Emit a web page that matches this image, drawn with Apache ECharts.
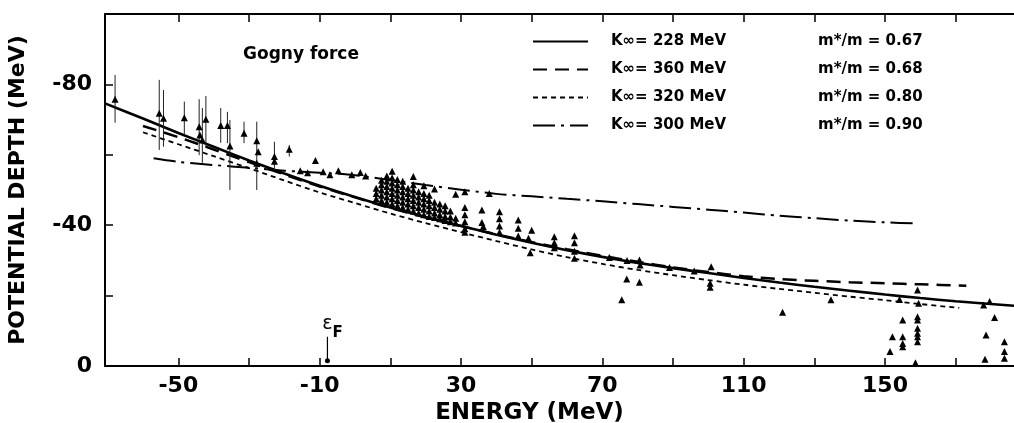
<!DOCTYPE html>
<html>
<head>
<meta charset="utf-8">
<script src="https://cdn.jsdelivr.net/npm/echarts@6/dist/echarts.min.js"></script>
<style>
html,body{margin:0;padding:0;background:#fff;}
#chart{width:1014px;height:423px;}
</style>
</head>
<body>
<div id="chart"></div>
<script>
// curves: energy (MeV) and potential depth (MeV)
var solidE = [-70.75,-60,-50,-40,-30,-20,-10,0,10,20,30,40,50,60,70,80,90,100,110,120,130,140,150,160,170,186.5];
var solidV = [-74.6,-70.3,-66.2,-62.3,-58.4,-54.7,-51.2,-48.0,-45.0,-42.3,-39.8,-37.3,-35.0,-32.9,-31.0,-29.3,-27.8,-26.4,-25.0,-23.7,-22.5,-21.4,-20.3,-19.3,-18.4,-17.1];

var longDashE = [-60,-50,-40,-30,-20,-10,0,10,20,30,40,50,60,70,80,90,100,110,120,130,140,150,160,173];
var longDashV = [-68.2,-65.0,-61.5,-57.9,-54.4,-51.0,-47.9,-44.9,-42.2,-39.8,-37.4,-35.2,-33.2,-31.3,-29.6,-28.0,-26.7,-25.5,-24.7,-24.2,-23.8,-23.5,-23.2,-22.8];

var shortDashE = [-60,-50,-40,-30,-20,-10,0,10,20,30,40,50,60,70,80,90,100,110,120,130,140,150,160,171];
var shortDashV = [-66.4,-63.0,-59.6,-56.2,-52.7,-49.3,-46.3,-43.3,-40.6,-38.0,-35.5,-33.1,-30.9,-29.0,-27.3,-25.8,-24.4,-23.1,-21.9,-20.8,-19.7,-18.7,-17.6,-16.5];

var dashDotE = [-57,-50,-40,-30,-20,-10,0,10,20,30,40,50,60,70,80,90,100,110,120,130,140,150,159.5];
var dashDotV = [-59.0,-58.0,-57.1,-56.3,-55.5,-54.9,-54.2,-52.8,-51.4,-50.1,-48.9,-48.2,-47.5,-46.8,-46.0,-45.2,-44.4,-43.6,-42.7,-42.0,-41.3,-40.8,-40.5];

// legend texts
var kInf = ['228','360','320','300'];
var massRatio = ['0.67','0.68','0.80','0.90'];

// data with error bars (low energies)
var barE = [-67.9,-55.4,-54.2,-48.3,-44.1,-43.2,-42.2,-38.0,-36.1,-35.4,-31.4,-27.8,-22.8,-18.6];
var barV = [-75.8,-71.8,-70.4,-70.5,-68.0,-64.2,-70.1,-68.3,-68.3,-62.5,-66.1,-64.0,-59.5,-61.6];
var barLow = [-69.1,-61.4,-62.3,-65.6,-59.9,-57.7,-62.0,-63.4,-63.3,-50.0,-63.3,-50.0,-55.7,-59.5];
var barHigh = [-82.7,-81.3,-78.4,-75.1,-75.8,-73.3,-76.7,-73.3,-72.2,-69.9,-69.4,-69.4,-63.7,-62.8];

// data without bars, below 5 MeV
var lowE = [-43.9,-27.4,-27.8,-22.8,-15.5,-13.4,-11.2,-9.0,-7.1,-4.7,-0.9,1.5,3.0];
var lowV = [-65.6,-60.9,-57.6,-58.2,-55.5,-54.9,-58.4,-55.2,-54.3,-55.5,-54.3,-55.0,-54.0];

// the dense cluster, 5 - 30 MeV
var clusterE = [6,6,6,
  7.5,7.5,7.5,7.5,7.5,
  9,9,9,9,9,9,
  10.5,10.5,10.5,10.5,10.5,10.5,10.5,
  12,12,12,12,12,12,
  13.5,13.5,13.5,13.5,13.5,13.5,
  15,15,15,15,15,
  16.5,16.5,16.5,16.5,16.5,16.5,16.5,
  18,18,18,18,18,
  19.5,19.5,19.5,19.5,19.5,19.5,
  21,21,21,21,21,
  22.5,22.5,22.5,22.5,22.5,
  24,24,24,24,
  25.5,25.5,25.5,25.5,
  27,27,27,
  28.5,28.5,28.5];
var clusterV = [-47.5,-49.0,-50.5,
  -47.0,-48.5,-50.0,-51.5,-52.8,
  -46.5,-48.0,-49.5,-51.0,-52.5,-54.0,
  -46.0,-47.5,-49.0,-50.5,-52.0,-53.5,-55.3,
  -45.5,-47.0,-48.5,-50.0,-51.5,-53.0,
  -45.0,-46.5,-48.0,-49.5,-51.0,-52.5,
  -44.5,-46.0,-47.5,-49.0,-50.5,
  -44.0,-45.5,-47.0,-48.5,-50.0,-51.5,-53.8,
  -43.5,-45.0,-46.5,-48.0,-49.5,
  -43.0,-44.5,-46.0,-47.5,-49.0,-51.2,
  -42.5,-44.0,-45.5,-47.0,-48.5,
  -42.2,-43.5,-45.0,-46.5,-50.3,
  -41.8,-43.0,-44.5,-46.0,
  -41.3,-42.5,-44.0,-45.5,
  -41.0,-42.3,-44.0,
  -40.6,-42.0,-48.8];

// columns along the curves, 30 - 65 MeV
var colE = [31.1,31.1,31.1,31.1,31.1,31.1,35.9,35.9,36.3,38.0,40.9,40.9,40.9,40.9,46.2,46.2,46.2,49.1,49.6,50.0,56.4,56.4,56.4,62.1,62.1,62.1,62.1];
var colV = [-49.5,-45.0,-43.0,-41.0,-39.0,-38.0,-44.3,-40.8,-39.6,-49.0,-43.8,-41.8,-39.8,-38.0,-41.5,-39.1,-36.9,-36.3,-32.2,-38.6,-36.7,-35.0,-33.6,-37.0,-35.0,-32.6,-30.6];

var highE = [72.0,75.5,76.9,77.0,80.5,80.7,80.5,89.0,96.0,100.8,100.5,100.5,121.0,134.7,
  151.4,152.1,154.1,155.0,155.0,155.0,155.0,158.6,159.2,159.5,159.2,159.2,159.2,159.2,159.2,159.2,
  177.9,178.3,178.6,179.6,181.0,183.8,183.8,183.8];
var highV = [-30.8,-18.8,-24.7,-30.0,-30.1,-28.7,-23.8,-28.0,-27.0,-28.2,-23.5,-22.4,-15.3,-18.8,
  -4.1,-8.3,-18.9,-13.1,-8.3,-6.4,-5.5,-0.9,-21.6,-17.8,-14.0,-13.1,-10.7,-9.3,-8.3,-6.9,
  -17.3,-1.9,-8.8,-18.3,-13.8,-6.9,-4.1,-2.2];

// Fermi energy marker
var fermiE = -7.8;
var fermiV = [-1.5,-8.3];

var FONT = 'DejaVu Sans';
var tickValues = [-50,-30,-10,10,30,50,70,90,110,130,150,170];
var xLabelValues = [-50,-10,30,70,110,150];
var yLabelValues = [-80,-40,0];

function pairs(xs, ys){
	var out = [];
	for(var i=0;i<xs.length;i++){
		out.push([xs[i], ys[i]]);
	}
	return out;
}

var names = [];
for(var i=0;i<kInf.length;i++){
	names.push('K\u221E= '+kInf[i]+' MeV');
}

var points = pairs(barE, barV)
	.concat(pairs(lowE, lowV))
	.concat(pairs(clusterE, clusterV))
	.concat(pairs(colE, colV))
	.concat(pairs(highE, highV));
var bars = [];
for(var i=0;i<barE.length;i++){
	bars.push([barE[i], barLow[i], barHigh[i]]);
}

function curve(name, xs, ys, width, dash){
	return {
		name:name, type:'line', data:pairs(xs, ys), smooth:0.3,
		symbol:'none', showSymbol:false, silent:true, z:3,
		lineStyle:{color:'#000', width:width, type:dash}
	};
}

var myChart = echarts.init(document.getElementById('chart'), null, {renderer:'canvas'});
var option = {
	animation:false,
	backgroundColor:'#fff',
	title:{
		text:'Gogny force', left:243, top:46, padding:0,
		textStyle:{fontFamily:FONT, fontSize:17, fontWeight:'bold', color:'#000'}
	},
	legend:{
		orient:'vertical', left:532, top:34, padding:0,
		itemWidth:55, itemHeight:14, itemGap:13,
		data:names,
		itemStyle:{color:'rgba(0,0,0,0)', borderColor:'rgba(0,0,0,0)', borderWidth:0, opacity:0},
		formatter:function(name){
			var idx = names.indexOf(name);
			return '{a|'+name+'}{b|m*/m = '+massRatio[idx]+'}';
		},
		textStyle:{
			rich:{
				a:{fontFamily:FONT, fontSize:15, fontWeight:'bold', color:'#000', width:207, padding:[0,0,0,18], lineHeight:14},
				b:{fontFamily:FONT, fontSize:15, fontWeight:'bold', color:'#000', lineHeight:14}
			}
		}
	},
	grid:{left:105, top:14, right:0, bottom:57, outerBoundsMode:'none'},
	xAxis:[{
		type:'value', position:'bottom', min:-70.75, max:186.5,
		name:'ENERGY (MeV)', nameLocation:'middle', nameGap:32,
		nameTextStyle:{fontFamily:FONT, fontSize:23, fontWeight:'bold', color:'#000', padding:[0,60,0,0]},
		axisLine:{onZero:false, lineStyle:{color:'#000', width:2}},
		axisTick:{inside:true, length:8, customValues:tickValues, lineStyle:{color:'#000', width:1.5}},
		axisLabel:{customValues:xLabelValues, margin:9, fontFamily:FONT, fontSize:22, fontWeight:'bold', color:'#000'},
		splitLine:{show:false}
	},{
		type:'value', position:'top', min:-70.75, max:186.5,
		axisLine:{onZero:false, lineStyle:{color:'#000', width:2}},
		axisTick:{inside:true, length:8, customValues:tickValues, lineStyle:{color:'#000', width:1.5}},
		axisLabel:{show:false},
		splitLine:{show:false}
	}],
	yAxis:{
		type:'value', inverse:true, min:-100, max:0, interval:20,
		name:'POTENTIAL DEPTH (MeV)', nameLocation:'middle', nameGap:76, nameRotate:90,
		nameTextStyle:{fontFamily:FONT, fontSize:22, fontWeight:'bold', color:'#000'},
		axisLine:{onZero:false, lineStyle:{color:'#000', width:2}},
		axisTick:{inside:true, length:8, lineStyle:{color:'#000', width:1.5}},
		axisLabel:{customValues:yLabelValues, margin:13, fontFamily:FONT, fontSize:22, fontWeight:'bold', color:'#000'},
		splitLine:{show:false}
	},
	series:[
		curve(names[0], solidE, solidV, 2.6, 'solid'),
		curve(names[1], longDashE, longDashV, 2.5, [14,8]),
		curve(names[2], shortDashE, shortDashV, 1.8, [5,4]),
		curve(names[3], dashDotE, dashDotV, 2, [22,6,3,6]),
		{
			name:'bars', type:'custom', data:bars, z:4, silent:true,
			renderItem:function(params, api){
				var lo = api.coord([api.value(0), api.value(1)]);
				var hi = api.coord([api.value(0), api.value(2)]);
				return {type:'line', shape:{x1:lo[0], y1:lo[1], x2:hi[0], y2:hi[1]}, style:{stroke:'#222', lineWidth:1}};
			}
		},
		{
			name:'data', type:'scatter', data:points, symbol:'triangle', symbolSize:7, z:5, silent:true,
			itemStyle:{color:'#000', opacity:1}
		},
		{
			name:'eF', type:'line', data:[[fermiE, fermiV[0]],[fermiE, fermiV[1]]], z:5, silent:true,
			symbol:'circle', showSymbol:true,
			symbolSize:function(val, params){ return params.dataIndex === 0 ? 5 : 0; },
			itemStyle:{color:'#000'},
			lineStyle:{color:'#000', width:1.2},
			label:{
				show:true, position:'top', distance:1, offset:[5,5],
				formatter:function(p){ return p.dataIndex === 1 ? '{e|\u03B5}{f|F}' : ''; },
				rich:{
					e:{fontFamily:FONT, fontSize:19, color:'#000', verticalAlign:'top', lineHeight:26},
					f:{fontFamily:FONT, fontSize:15, fontWeight:'bold', color:'#000', verticalAlign:'bottom', lineHeight:26}
				}
			}
		}
	]
};
myChart.setOption(option);
</script>
</body>
</html>
